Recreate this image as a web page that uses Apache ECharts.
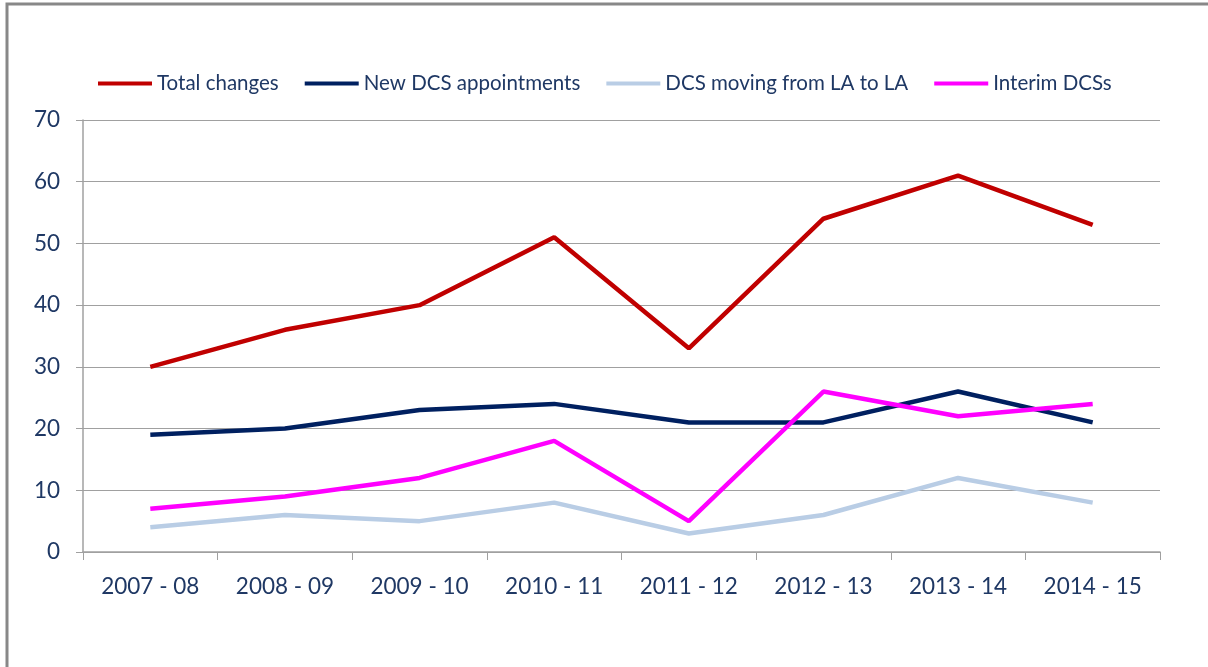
<!DOCTYPE html>
<html>
<head>
<meta charset="utf-8">
<script src="https://cdn.jsdelivr.net/npm/echarts@6/dist/echarts.min.js"></script>
<style>
  html, body { margin: 0; padding: 0; background: #fff; }
  #chart { width: 1208px; height: 667px; }
</style>
</head>
<body>
<div id="chart"></div>
<script>
var years = ['2007 - 08', '2008 - 09', '2009 - 10', '2010 - 11', '2011 - 12', '2012 - 13', '2013 - 14', '2014 - 15'];
var totalChanges = [30, 36, 40, 51, 33, 54, 61, 53];
var newDcs = [19, 20, 23, 24, 21, 21, 26, 21];
var movingLaToLa = [4, 6, 5, 8, 3, 6, 12, 8];
var interimDcs = [7, 9, 12, 18, 5, 26, 22, 24];

var textColor = '#1F3864';
var font = 'Lato, "Open Sans", sans-serif';

var chart = echarts.init(document.getElementById('chart'));

function line(name, data, color) {
  return {
    name: name,
    type: 'line',
    data: data,
    symbol: 'none',
    lineStyle: { color: color, width: 4.5 },
    itemStyle: { color: color },
    animation: false
  };
}

chart.setOption({
  backgroundColor: '#fff',
  textStyle: { fontFamily: font },
  graphic: [{
    type: 'polyline',
    shape: { points: [[7, 667], [7, 4], [1208, 4]] },
    style: { stroke: '#888', lineWidth: 3, fill: null }
  }],
  legend: {
    top: 68,
    left: 93,
    itemWidth: 54,
    itemHeight: 4,
    itemGap: 26,
    icon: 'rect',
    textStyle: { color: textColor, fontSize: 20.5, fontFamily: font },
    data: ['Total changes', 'New DCS appointments', 'DCS moving from LA to LA', 'Interim DCSs']
  },
  grid: { left: 83, right: 48, top: 120, bottom: 115 },
  xAxis: {
    type: 'category',
    data: years,
    boundaryGap: true,
    axisLine: { lineStyle: { color: '#A0A0A0', width: 1.5 } },
    axisTick: { show: true, length: 8, lineStyle: { color: '#A0A0A0' } },
    axisLabel: { color: textColor, fontSize: 22.5, margin: 23 }
  },
  yAxis: {
    type: 'value',
    min: 0,
    max: 70,
    interval: 10,
    axisLine: { show: true, lineStyle: { color: '#A0A0A0', width: 1.5 } },
    axisTick: { show: true, length: 7, lineStyle: { color: '#A0A0A0' } },
    axisLabel: { color: textColor, fontSize: 22.5, margin: 23 },
    splitLine: { lineStyle: { color: '#A0A0A0', width: 1.2 } }
  },
  series: [
    line('Total changes', totalChanges, '#C00000'),
    line('New DCS appointments', newDcs, '#002060'),
    line('DCS moving from LA to LA', movingLaToLa, '#B9CDE5'),
    line('Interim DCSs', interimDcs, '#FF00FF')
  ]
});
</script>
</body>
</html>
